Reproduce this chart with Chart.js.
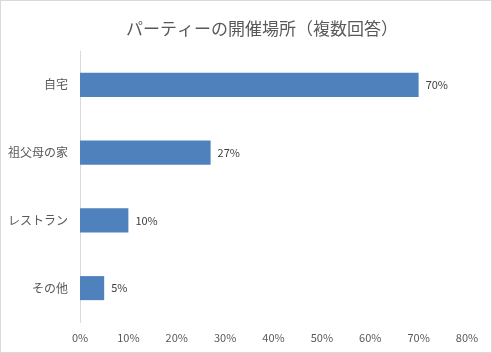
<!DOCTYPE html>
<html>
<head>
<meta charset="utf-8">
<script src="https://cdn.jsdelivr.net/npm/chart.js@4/dist/chart.umd.min.js"></script>
<style>
  html, body { margin: 0; padding: 0; background: #fff; }
  #wrap { width: 490px; height: 351px; border: 1px solid #d9d9d9; }
</style>
</head>
<body>
<div id="wrap"><canvas id="miGrafico" width="490" height="351"></canvas></div>
<script>
const titulo = 'パーティーの開催場所（複数回答）';
const lugares = ['自宅', '祖父母の家', 'レストラン', 'その他'];
const porcentajes = [70, 27, 10, 5];
const ejeMax = 80;

const fuente = "'Noto Sans CJK JP', sans-serif";
const graficoCanvas = document.getElementById('miGrafico');

// titulo un poco a la derecha del centro, como en el original
const tituloPlugin = {
  id: 'tituloPlugin',
  afterDraw(chart) {
    const ctx = chart.ctx;
    ctx.save();
    ctx.font = '17px ' + fuente;
    ctx.fillStyle = '#595959';
    ctx.textAlign = 'center';
    ctx.textBaseline = 'middle';
    ctx.fillText(titulo, 261, 28);
    ctx.restore();
  }
};

// etiquetas de valor al final de cada barra
const etiquetas = {
  id: 'etiquetas',
  afterDatasetsDraw(chart) {
    const ctx = chart.ctx;
    const meta = chart.getDatasetMeta(0);
    ctx.save();
    ctx.font = '11px ' + fuente;
    ctx.fillStyle = '#404040';
    ctx.textAlign = 'left';
    ctx.textBaseline = 'middle';
    meta.data.forEach((bar, i) => {
      ctx.fillText(porcentajes[i] + '%', bar.x + 7, bar.y);
    });
    ctx.restore();
  }
};

new Chart(graficoCanvas, {
  type: 'bar',
  data: {
    labels: lugares,
    datasets: [{
      data: porcentajes,
      backgroundColor: '#4F81BD',
      barPercentage: 0.355,
      categoryPercentage: 1
    }]
  },
  options: {
    indexAxis: 'y',
    responsive: false,
    animation: false,
    layout: { padding: { left: 0, right: 24, top: 50, bottom: 0 } },
    plugins: {
      legend: { display: false },
      tooltip: { enabled: false },
      title: { display: false }
    },
    scales: {
      x: {
        min: 0,
        max: ejeMax,
        grid: { display: false, drawTicks: false },
        border: { display: false },
        ticks: {
          stepSize: 10,
          padding: 9,
          color: '#595959',
          font: { family: fuente, size: 11 },
          callback: v => v + '%'
        },
        afterFit: s => { s.height = 30; }
      },
      y: {
        grid: { display: false, drawTicks: false },
        border: { display: true, color: '#d9d9d9' },
        ticks: {
          padding: 12,
          color: '#595959',
          font: { family: fuente, size: 12 }
        },
        afterFit: s => { s.width = 79; }
      }
    }
  },
  plugins: [etiquetas, tituloPlugin]
});
</script>
</body>
</html>
